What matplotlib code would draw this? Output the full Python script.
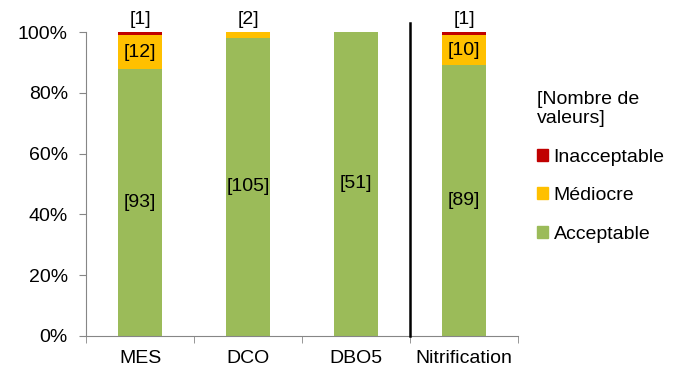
import matplotlib.pyplot as plt
import numpy as np
from matplotlib.patches import Patch

plt.rcParams['font.family'] = ['Liberation Sans', 'DejaVu Sans']

categories = ["MES", "DCO", "DBO5", "Nitrification"]
acceptable = [93, 105, 51, 89]
mediocre = [12, 2, 0, 10]
inacceptable = [1, 0, 0, 1]

colors = {"Acceptable": "#9BBB59", "Médiocre": "#FFC000", "Inacceptable": "#C00000"}
fs = 14

counts = np.array([acceptable, mediocre, inacceptable], dtype=float)
totals = counts.sum(axis=0)
shares = counts / totals

fig = plt.figure(figsize=(6.88, 3.70), dpi=100)
ax = fig.add_axes([0.125, 0.092, 0.628, 0.8215])

x = np.arange(len(categories))
width = 0.4
bottom = np.zeros(len(categories))
names = ["Acceptable", "Médiocre", "Inacceptable"]
for name, share, cnt in zip(names, shares, counts):
    ax.bar(x, share, width, bottom=bottom, color=colors[name], edgecolor="none", zorder=2)
    for i in range(len(categories)):
        if cnt[i] == 0:
            continue
        if name == "Inacceptable" or (name == "Médiocre" and share[i] < 0.05):
            # small segments: label sits just above the bar
            ax.text(x[i], 1.04, f"[{int(cnt[i])}]", ha="center", va="center",
                    fontsize=fs, clip_on=False, zorder=4)
        else:
            ax.text(x[i], bottom[i] + share[i] / 2, f"[{int(cnt[i])}]", ha="center",
                    va="center", fontsize=fs, zorder=4)
    bottom += share

# separator before Nitrification
ax.plot([2.5, 2.5], [0, 1.03], color="black", lw=1.8, clip_on=False, zorder=3)

ax.set_xlim(-0.5, len(categories) - 0.5)
ax.set_ylim(0, 1)
ticks = np.arange(0, 1.01, 0.2)
ax.set_yticks(ticks)
ax.set_yticklabels([f"{int(round(v * 100))}%" for v in ticks], fontsize=fs)
ax.set_xticks(x)
ax.set_xticklabels(categories, fontsize=fs)
ax.set_xticks(np.arange(-0.5, len(categories), 1), minor=True)
ax.tick_params(axis="x", which="major", length=0, pad=10)
ax.tick_params(axis="x", which="minor", length=5, color="#868686")
ax.tick_params(axis="y", length=5, color="#868686", pad=8)

for side in ["top", "right"]:
    ax.spines[side].set_visible(False)
for side in ["left", "bottom"]:
    ax.spines[side].set_color("#868686")

handles = [Patch(color=colors[n]) for n in ["Inacceptable", "Médiocre", "Acceptable"]]
leg = fig.legend(handles, ["Inacceptable", "Médiocre", "Acceptable"],
                 title="[Nombre de\nvaleurs]", loc="upper left",
                 bbox_to_anchor=(0.755, 0.802), frameon=False, fontsize=fs,
                 title_fontsize=fs, handlelength=0.55, handleheight=0.55,
                 handletextpad=0.3, labelspacing=1.1, alignment="left")

fig.savefig("out.png", dpi=100)
